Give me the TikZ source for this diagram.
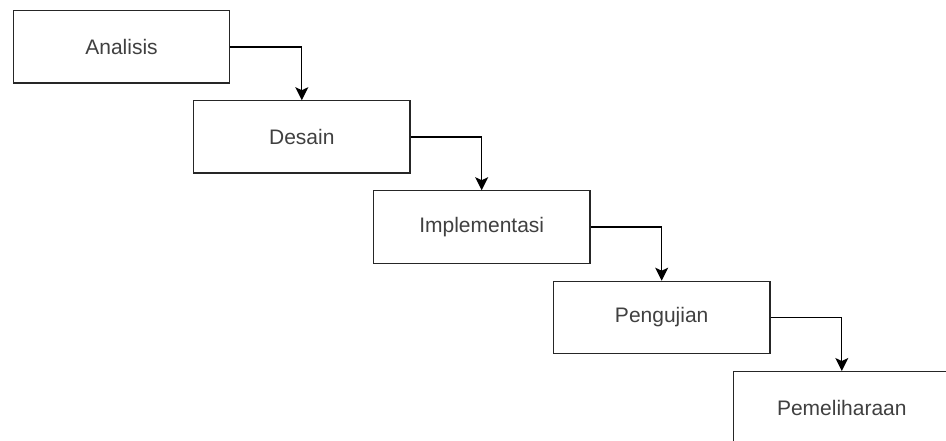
\documentclass[tikz,border=0pt]{standalone}
\usepackage{fontspec}
\setmainfont{Liberation Sans}
\usetikzlibrary{arrows.meta}
\begin{document}
\begin{tikzpicture}[x=1pt,y=-1pt,
  stage/.style={draw=black!85, line width=1.3pt, fill=white, minimum width=216.5pt, minimum height=72.3pt, inner sep=0pt, text=black!75, font=\fontsize{21}{25}\selectfont},
  flow/.style={draw=black, line width=1.3pt, -{Stealth[length=13pt,width=13pt,inset=3pt]}}]
\useasboundingbox (0,0) rectangle (946,441);
\clip (0,0) rectangle (946,441);
\node[stage] (a) at (121.5,47) {Analisis};
\node[stage] (b) at (301.8,137) {Desain};
\node[stage] (c) at (481.7,227) {Implementasi};
\node[stage] (d) at (661.7,317.5) {Pengujian};
\node[stage] (e) at (841.8,407.8) {Pemeliharaan};
\draw[flow] (a.east) -| (b.north);
\draw[flow] (b.east) -| (c.north);
\draw[flow] (c.east) -| (d.north);
\draw[flow] (d.east) -| (e.north);
\end{tikzpicture}
\end{document}
